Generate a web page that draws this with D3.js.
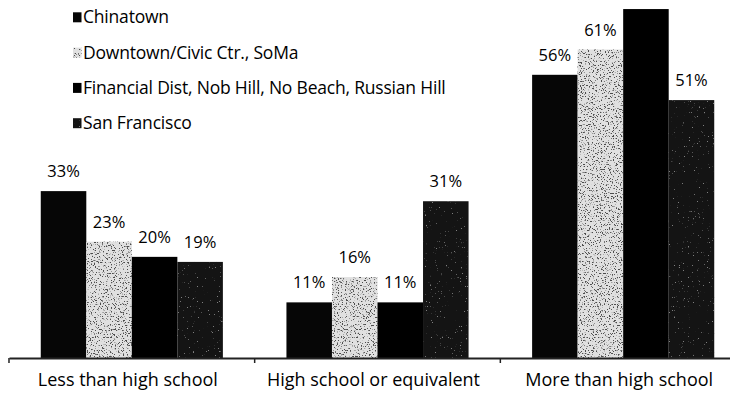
<!DOCTYPE html>
<html><head><meta charset="utf-8">
<script src="https://cdn.jsdelivr.net/npm/d3@7"></script>
<style>
body{margin:0;background:#fff}
svg{display:block}
text{font-family:"Open Sans",sans-serif;fill:#000}
</style></head>
<body><svg id="c" width="730" height="400"></svg>
<script>
// ---- data ----
const categories = ["Less than high school", "High school or equivalent", "More than high school"];
const seriesKeys = ["chinatown", "downtown", "financial", "sanFrancisco"];
const seriesNames = ["Chinatown", "Downtown/Civic Ctr., SoMa", "Financial Dist, Nob Hill, No Beach, Russian Hill", "San Francisco"];
const chinatown = [33, 11, 56];
const downtown = [23, 16, 61];
const financial = [20, 11, 69];
const sanFrancisco = [19, 31, 51];
const yDomain = [0, 70];

const seriesValues = {chinatown, downtown, financial, sanFrancisco};
const table = categories.map((c, i) => ({category: c, values: seriesKeys.map(k => ({key: k, value: seriesValues[k][i]}))}));

// ---- styles ----
const fills = {chinatown: "#060606", downtown: "#e0e0e0", financial: "#000000", sanFrancisco: "#141414"};
const filters = {chinatown: null, downtown: "url(#spkDark)", financial: null, sanFrancisco: "url(#spkLight)"};

const svg = d3.select("#c");
const defs = svg.append("defs");

function speckle(id, rgb, matrixRow, freq, seed) {
  const f = defs.append("filter").attr("id", id).attr("x", 0).attr("y", 0).attr("width", "100%").attr("height", "100%")
    .attr("color-interpolation-filters", "sRGB");
  f.append("feTurbulence").attr("type", "fractalNoise").attr("baseFrequency", freq).attr("numOctaves", 2).attr("seed", seed).attr("result", "noise");
  f.append("feColorMatrix").attr("in", "noise").attr("type", "matrix")
    .attr("values", `0 0 0 0 ${rgb}  0 0 0 0 ${rgb}  0 0 0 0 ${rgb}  ${matrixRow}`).attr("result", "dots");
  f.append("feComposite").attr("in", "dots").attr("in2", "SourceGraphic").attr("operator", "in").attr("result", "clip");
  const m = f.append("feMerge");
  m.append("feMergeNode").attr("in", "SourceGraphic");
  m.append("feMergeNode").attr("in", "clip");
}
speckle("spkDark", 0.3, "-10 0 0 0 4.2", 0.75, 7);
speckle("spkLight", 0.5, "-14 0 0 0 4.0", 0.8, 3);

// ---- scales ----
const x0 = d3.scaleBand().domain(categories).range([9, 746]).paddingInner(0.2587).paddingOuter(0.1293);
const x1 = d3.scaleBand().domain(seriesKeys).range([0, x0.bandwidth()]).padding(0);
const y = d3.scaleLinear().domain(yDomain).range([358, 4]);

// ---- bars ----
const groups = svg.append("g").selectAll("g").data(table).join("g")
  .attr("transform", d => `translate(${x0(d.category)},0)`);

groups.selectAll("rect").data(d => d.values).join("rect")
  .attr("x", d => x1(d.key))
  .attr("y", d => y(d.value))
  .attr("width", x1.bandwidth())
  .attr("height", d => y(0) - y(d.value))
  .attr("fill", d => fills[d.key])
  .attr("filter", d => filters[d.key]);

// value labels (the label of a bar reaching the top edge falls outside the picture, as in the original)
const labelSize = 16.5;
groups.selectAll("text.val").data(d => d.values.filter(v => y(v.value) - 14 - labelSize * 0.75 >= 0)).join("text")
  .attr("class", "val")
  .attr("x", d => x1(d.key) + x1.bandwidth() / 2)
  .attr("y", d => y(d.value) - 14)
  .attr("text-anchor", "middle")
  .attr("font-size", labelSize)
  .attr("font-weight", 500)
  .text(d => d.value + "%");

// ---- axis ----
const axis = svg.append("g").attr("transform", `translate(-4,${y(0)})`)
  .call(d3.axisBottom(x0).tickSize(0).tickSizeOuter(0));
axis.select(".domain").attr("stroke", "#222").attr("stroke-width", 2).attr("transform", "translate(4,0)");
axis.selectAll(".tick text").attr("y", 28).attr("dy", null)
  .attr("font-size", 18).attr("font-family", "\"Open Sans\",sans-serif").attr("fill", "#000");

const gap = x0.step() * x0.paddingInner();
svg.append("g").selectAll("line").data(categories).join("line")
  .attr("x1", d => x0(d) - gap / 2).attr("x2", d => x0(d) - gap / 2)
  .attr("y1", y(0)).attr("y2", y(0) + 5)
  .attr("stroke", "#222").attr("stroke-width", 1.5);

// ---- legend ----
const legend = svg.append("g").selectAll("g").data(seriesKeys).join("g")
  .attr("transform", (d, i) => `translate(73,${23.3 + i * 35.3})`);
legend.append("rect").attr("x", 0).attr("y", -11).attr("width", 8.5).attr("height", 10)
  .attr("fill", d => fills[d]).attr("filter", d => filters[d]);
legend.append("text").attr("x", 10).attr("y", 0).attr("font-size", 17.5).attr("font-weight", 500)
  .attr("letter-spacing", -0.2)
  .text((d, i) => seriesNames[i]);
</script></body></html>
